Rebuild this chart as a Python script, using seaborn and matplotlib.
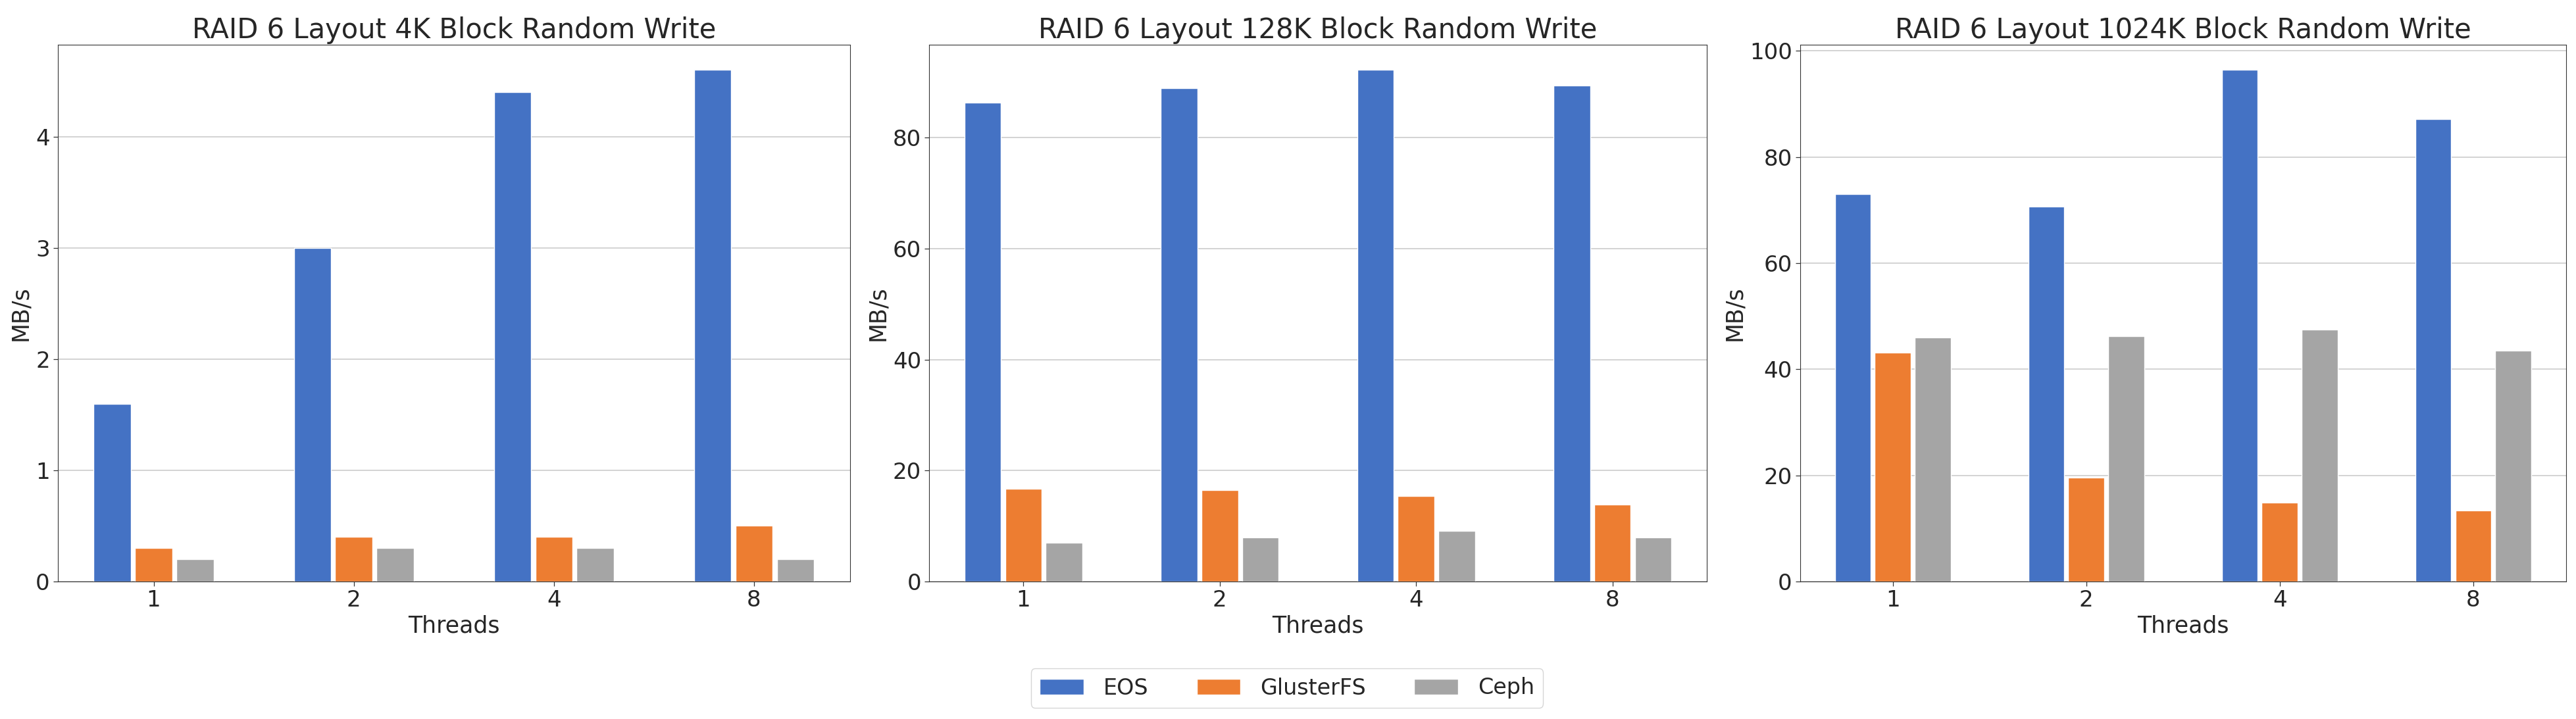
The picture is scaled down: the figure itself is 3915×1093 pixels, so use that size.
import pandas as pd
import seaborn as sns
import matplotlib.pyplot as plt

# =========================
# DATA
# =========================
threads = ["1", "2", "4", "8"]
systems = ["EOS", "GlusterFS", "Ceph"]
colors = ["#4472C4", "#ED7D31", "#A5A5A5"]

titles = [
    "RAID 6 Layout 4K Block Random Write",
    "RAID 6 Layout 128K Block Random Write",
    "RAID 6 Layout 1024K Block Random Write",
]

eos_4k = [1.6, 3.0, 4.4, 4.6]
gluster_4k = [0.3, 0.4, 0.4, 0.5]
ceph_4k = [0.2, 0.3, 0.3, 0.2]

eos_128k = [86.3, 88.9, 92.2, 89.4]
gluster_128k = [16.7, 16.5, 15.4, 13.9]
ceph_128k = [7.0, 8.0, 9.1, 8.0]

eos_1024k = [73.0, 70.6, 96.4, 87.1]
gluster_1024k = [43.1, 19.6, 14.9, 13.4]
ceph_1024k = [46.0, 46.3, 47.5, 43.5]

panels = [
    [eos_4k, gluster_4k, ceph_4k],
    [eos_128k, gluster_128k, ceph_128k],
    [eos_1024k, gluster_1024k, ceph_1024k],
]


def to_long(series):
    rows = []
    for name, vals in zip(systems, series):
        for t, v in zip(threads, vals):
            rows.append({"Threads": t, "MB/s": v, "System": name})
    return pd.DataFrame(rows)


# =========================
# STYLE
# =========================
sns.set_style("whitegrid", {
    "axes.edgecolor": ".2",
    "axes.linewidth": 0.9,
    "xtick.bottom": True,
    "ytick.left": True,
    "grid.color": ".8",
})
plt.rcParams["font.family"] = ["DejaVu Sans"]

# =========================
# PLOT
# =========================
W, H = 3915, 1093
fig = plt.figure(figsize=(W / 100, H / 100), dpi=100)

# axes rectangles in pixels: left, right, top, bottom
boxes = [(87.5, 1292, 67.5, 884), (1412, 2594, 67.5, 884), (2735.5, 3900, 67.5, 884)]

handles, labels = None, None
for i, (series, title) in enumerate(zip(panels, titles)):
    l, r, t, b = boxes[i]
    ax = fig.add_axes([l / W, 1 - b / H, (r - l) / W, (b - t) / H])
    df = to_long(series)
    sns.barplot(
        data=df, x="Threads", y="MB/s", hue="System",
        order=threads, hue_order=systems, palette=colors,
        width=0.62, gap=0.1, saturation=1, ax=ax, legend=(i == 0),
    )
    if i == 0:
        handles, labels = ax.get_legend_handles_labels()
        ax.get_legend().remove()
    ax.set_xlim(-0.48, 3.48)
    ax.set_title(title, fontsize=30, pad=7)
    ax.set_xlabel("Threads", fontsize=25)
    ax.set_ylabel("MB/s", fontsize=25)
    ax.tick_params(labelsize=24.5, length=5, width=0.9, color=".2")
    ax.xaxis.grid(False)
    ax.yaxis.grid(True, linewidth=1.2)

fig.legend(
    handles, labels, loc="center", bbox_to_anchor=(1956 / W, 1 - 1046 / H),
    ncol=3, fontsize=24, frameon=True, columnspacing=2.2, handletextpad=0.9,
)

plt.savefig("out.png", dpi=100)
plt.close()
